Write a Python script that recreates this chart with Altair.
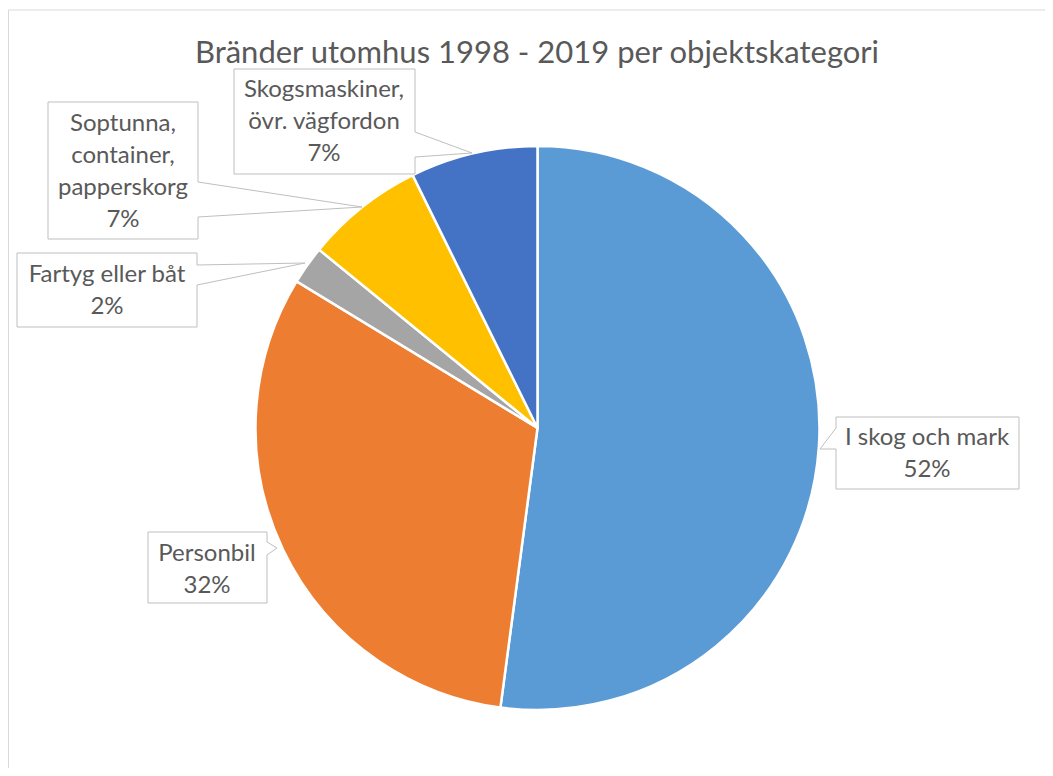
import altair as alt
import pandas as pd

# ---- data ----
categories = ["I skog och mark", "Personbil", "Fartyg eller båt",
              "Soptunna, container, papperskorg", "Skogsmaskiner, övr. vägfordon"]
shares = [52.1, 31.6, 2.2, 6.8, 7.3]
label_names = [["I skog och mark"], ["Personbil"], ["Fartyg eller båt"],
               ["Soptunna,", "container,", "papperskorg"], ["Skogsmaskiner,", "övr. vägfordon"]]
colors = ["#5B9BD5", "#ED7D31", "#A5A5A5", "#FFC000", "#4472C4"]
title_text = "Bränder utomhus 1998 - 2019 per objektskategori"

# ---- annotation layout (page coordinates) ----
label_cx = [927, 207, 107, 123, 324]
label_cy = [454, 570, 291, 172, 122]
LINE_H = 32
callouts = [
    [(836, 417), (1019, 417), (1019, 489), (836, 489), (836, 449), (820, 449), (836, 428), (836, 417)],
    [(148, 532), (267, 532), (267, 542), (277, 548), (267, 555), (267, 603), (148, 603), (148, 532)],
    [(17, 253), (197, 253), (197, 265), (305, 263), (197, 285), (197, 327), (17, 327), (17, 253)],
    [(48, 102), (198, 102), (198, 182), (362, 207), (198, 217), (198, 239), (48, 239), (48, 102)],
    [(234, 69), (415, 69), (415, 132), (472, 153), (415, 157), (415, 174), (234, 174), (234, 69)],
]

W, H = 1037, 760
FONT = "Lato"
TXT = "#595959"

pie_df = pd.DataFrame({"category": categories, "share": shares, "idx": range(len(categories))})

lab_rows = []
for names, s, cx, cy in zip(label_names, shares, label_cx, label_cy):
    lines = names + [f"{s:.0f}%"]
    n = len(lines)
    for i, t in enumerate(lines):
        lab_rows.append({"label": t, "x": cx, "y": cy + (i - (n - 1) / 2) * LINE_H})
lab_df = pd.DataFrame(lab_rows)

rows = []
for b, pts in enumerate(callouts):
    for i, (px, py) in enumerate(pts):
        rows.append({"box": b, "i": i, "x": px, "y": py})
co_df = pd.DataFrame(rows)
title_df = pd.DataFrame({"t": [title_text], "x": [537], "y": [63]})
border_df = pd.DataFrame({"x": [8.5, 8.5, 1045], "y": [768, 10, 10], "i": [0, 1, 2]})

xs = alt.Scale(domain=[8, 8 + W], range=[0, W])
ys = alt.Scale(domain=[8, 8 + H], range=[0, H])
X = lambda f="x": alt.X(f"{f}:Q", scale=xs, axis=None)
Y = lambda f="y": alt.Y(f"{f}:Q", scale=ys, axis=None)

border = alt.Chart(border_df).mark_line(stroke="#D9D9D9", strokeWidth=1).encode(
    x=X(), y=Y(), order="i:Q")

pie = alt.Chart(pie_df).mark_arc(outerRadius=282, stroke="white", strokeWidth=2.5).encode(
    theta=alt.Theta("share:Q", stack=True),
    color=alt.Color("category:N", scale=alt.Scale(domain=categories, range=colors), legend=None),
    order=alt.Order("idx:Q"),
    x=alt.value(537.5 - 8), y=alt.value(428 - 8),
)

boxes = alt.Chart(co_df).mark_line(stroke="#BFBFBF", strokeWidth=1).encode(
    x=X(), y=Y(), detail="box:N", order="i:Q")

labels = alt.Chart(lab_df).mark_text(
    font=FONT, fontSize=24, color=TXT, align="center", baseline="middle").encode(
    x=X(), y=Y(), text="label:N")

title = alt.Chart(title_df).mark_text(
    font=FONT, fontSize=31, color=TXT, align="center", baseline="alphabetic").encode(
    x=X(), y=Y(), text="t:N")

chart = alt.layer(border, pie, boxes, labels, title).properties(
    width=W, height=H, padding=0, autosize="none"
).configure_view(stroke=None)

chart.save("out.html", embed_options={"renderer": "svg", "actions": False})
